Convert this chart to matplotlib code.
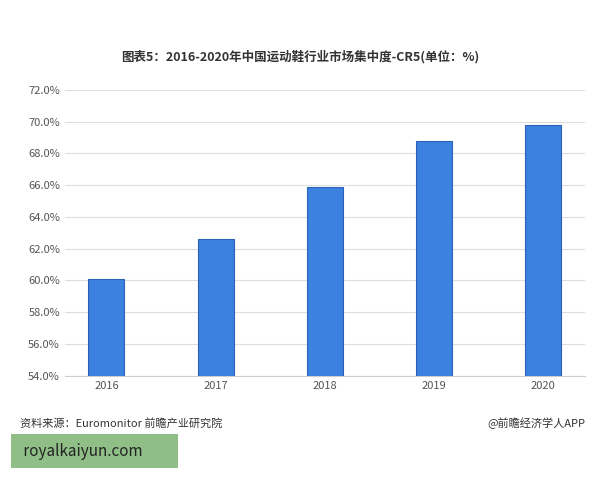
import matplotlib.pyplot as plt

plt.rcParams['font.family'] = ['Noto Sans CJK SC', 'DejaVu Sans']

years = ['2016', '2017', '2018', '2019', '2020']
cr5 = [60.1, 62.6, 65.9, 68.8, 69.8]
yticks = [54, 56, 58, 60, 62, 64, 66, 68, 70, 72]

fig = plt.figure(figsize=(6, 4.8), dpi=100)
ax = fig.add_axes([0.108, 0.217, 0.867, 0.596])
ax.bar(years, cr5, width=0.33, color='#3c80e0', edgecolor='#2a62b8', linewidth=0.8, zorder=3)
ax.set_ylim(54, 72)
ax.set_yticks(yticks)
ax.set_yticklabels([f'{v:.1f}%' for v in yticks], fontsize=8, color='#555555')
ax.tick_params(axis='x', labelsize=8, colors='#555555', length=0)
ax.tick_params(axis='y', length=0)
ax.grid(axis='y', color='#dddddd', linewidth=0.8, zorder=0)
for s in ['top', 'right', 'left']:
    ax.spines[s].set_visible(False)
ax.spines['bottom'].set_color('#cccccc')

fig.text(0.5, 0.882, '图表5：2016-2020年中国运动鞋行业市场集中度-CR5(单位：%)',
         ha='center', va='center', fontsize=9, fontweight='bold', color='#333333')
fig.text(0.033, 0.118, '资料来源：Euromonitor 前瞻产业研究院', fontsize=8, color='#333333', va='center')
fig.text(0.975, 0.118, '@前瞻经济学人APP', fontsize=8, color='#333333', va='center', ha='right')
fig.text(0.033, 0.06, ' royalkaiyun.com        ', fontsize=11, color='#222222', va='center',
         bbox=dict(boxstyle='square,pad=0.55', facecolor='#8fbf86', edgecolor='none'))

fig.savefig('out.png')
